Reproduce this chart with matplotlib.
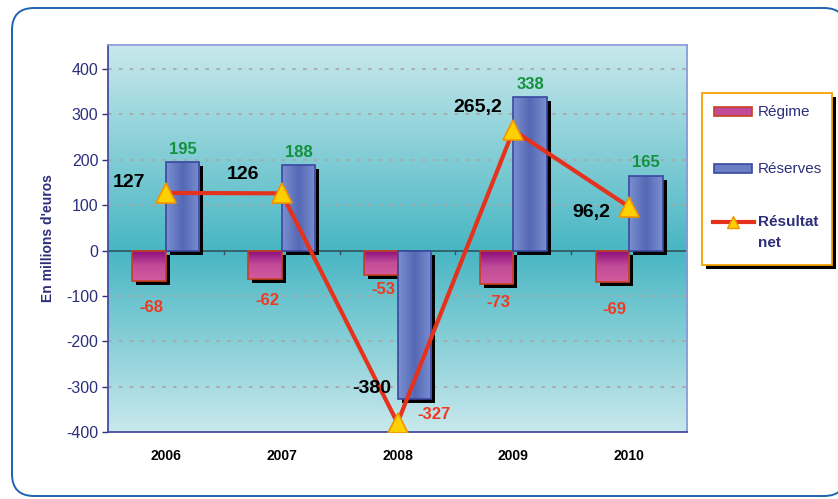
import matplotlib.pyplot as plt
import numpy as np
from matplotlib.colors import LinearSegmentedColormap
from matplotlib.patches import FancyBboxPatch, Rectangle
from matplotlib.lines import Line2D
from matplotlib.transforms import ScaledTranslation

plt.rcParams['font.family'] = ['Liberation Sans', 'DejaVu Sans']
plt.rcParams['axes.unicode_minus'] = False

# data
years = ['2006', '2007', '2008', '2009', '2010']
regime = [-68, -62, -53, -73, -69]
reserves = [195, 188, -327, 338, 165]
resultat = [127, 126, -380, 265.2, 96.2]
resultat_labels = ['127', '126', '-380', '265,2', '96,2']

W, H = 838, 499
fig = plt.figure(figsize=(W / 100, H / 100), dpi=100)

# background frame + legend drawn in pixel coords
bg = fig.add_axes([0, 0, 1, 1], zorder=0)
bg.set_xlim(0, W)
bg.set_ylim(H, 0)
bg.axis('off')
bg.add_patch(FancyBboxPatch((12, 8), 834, 488, boxstyle='round,pad=0,rounding_size=22',
                            fc='white', ec='#1f63ad', lw=1.4))

ax = fig.add_axes([108 / W, 1 - 432 / H, 579 / W, 387 / H], zorder=1)
ymin, ymax = -400, 453
ax.set_xlim(-0.5, 4.5)
ax.set_ylim(ymin, ymax)

# gradient background
f0 = (0 - ymin) / (ymax - ymin)
cmap_bg = LinearSegmentedColormap.from_list(
    'bg', [(0, '#c8e8ec'), (f0, '#48b6c3'), (1, '#c8e8ec')])
grad = np.linspace(0, 1, 256).reshape(-1, 1)
ax.imshow(grad, extent=[0, 1, 0, 1], transform=ax.transAxes, cmap=cmap_bg,
          aspect='auto', origin='lower', zorder=0)

for v in [-300, -200, -100, 100, 200, 300, 400]:
    ax.axhline(v, color='#a9a9a9', lw=1.3, ls=(0, (2, 4)), zorder=1)
ax.axhline(0, color='#2f5560', lw=1.2, zorder=1)
for b in np.arange(0.5, 4.5, 1):
    ax.plot([b, b], [0, -8], color='#2f5560', lw=1, zorder=1)

x = np.arange(len(years))
bw = 0.29
shadow = ax.transData + ScaledTranslation(4 / 100, -4 / 100, fig.dpi_scale_trans)

cmap_reg = LinearSegmentedColormap.from_list('reg', ['#d25a9e', '#c14c98', '#8a0a7c'])
cmap_res = LinearSegmentedColormap.from_list('res', ['#7a8fd0', '#5568b4', '#7a8fd0'])

reg_bars = ax.bar(x - bw / 2, regime, bw, color='#c04c98', ec='#c8401f', lw=1.2, zorder=3)
res_bars = ax.bar(x + bw / 2, reserves, bw, color='#6a7ec4', ec='#3a48a0', lw=1.2, zorder=3)

for bars, kind in [(reg_bars, 'reg'), (res_bars, 'res')]:
    for p in bars:
        bx, by = p.get_x(), p.get_y()
        w, h = p.get_width(), p.get_height()
        sh = Rectangle((bx, by), w, h, fc='black', ec='none', zorder=2, transform=shadow)
        ax.add_patch(sh)
        y0, y1 = min(by, by + h), max(by, by + h)
        if kind == 'reg':
            img = ax.imshow(np.linspace(0, 1, 64).reshape(-1, 1), cmap=cmap_reg,
                            extent=[bx, bx + w, y0, y1], origin='lower', aspect='auto', zorder=3)
        else:
            img = ax.imshow(np.linspace(0, 1, 64).reshape(1, -1), cmap=cmap_res,
                            extent=[bx, bx + w, y0, y1], origin='lower', aspect='auto', zorder=3)
        img.set_clip_path(p)
        p.set_facecolor('none')
        p.set_zorder(4)

ax.plot(x, resultat, color='#e5321c', lw=3, marker='^', ms=14, mfc='#ffd000',
        mec='#f29400', mew=1.2, zorder=6)

# value labels
for i, v in enumerate(reserves):
    if v > 0:
        ax.text(x[i] + bw / 2, v + 12, str(v), ha='center', va='bottom', color='#14913c',
                fontsize=12, fontweight='bold', zorder=7)
    else:
        ax.text(x[i] + bw / 2 + 0.17, v - 34, str(v), ha='center', va='center', color='#ee3a22',
                fontsize=12, fontweight='bold', zorder=7)

reg_lab_y = [-125, -110, -86, -115, -130]
for i, v in enumerate(regime):
    ax.text(x[i] - bw / 2 + 0.02, reg_lab_y[i], str(v), ha='center', va='center', color='#ee3a22',
            fontsize=12, fontweight='bold', zorder=7)

res_lab_pos = [(-0.32, 150), (0.67, 167), (1.78, -304), (2.69, 315), (3.67, 84)]
for (lx, ly), t in zip(res_lab_pos, resultat_labels):
    ax.text(lx, ly, t, ha='center', va='center', color='black', fontsize=14,
            fontweight='bold', zorder=7)

ax.set_yticks(range(-400, 401, 100))
ax.tick_params(axis='y', colors='#2e2e7a', labelsize=11.5, length=4, width=1, pad=3)
ax.set_xticks(x)
ax.set_xticklabels(years, fontsize=10, fontweight='bold')
ax.tick_params(axis='x', length=0, pad=12)
ax.set_ylabel("En millions d'euros", fontsize=10, fontweight='bold', color='#2e2e7a', labelpad=8)
for s in ['left', 'bottom']:
    ax.spines[s].set_color('#4a4aa0')
    ax.spines[s].set_linewidth(1.3)
for s in ['right', 'top']:
    ax.spines[s].set_color('#8898d8')
    ax.spines[s].set_linewidth(1.2)

# legend
bg.add_patch(Rectangle((706, 97), 130, 172, fc='black', ec='none', zorder=2))
bg.add_patch(Rectangle((702, 93), 130, 172, fc='white', ec='#f5a300', lw=1.3, zorder=3))
bg.add_patch(Rectangle((714, 107), 38, 9, fc='#c04c98', ec='#c8401f', lw=1.2, zorder=4))
bg.add_patch(Rectangle((714, 164), 38, 9, fc='#6a7ec4', ec='#3a48a0', lw=1.2, zorder=4))
bg.add_line(Line2D([713, 754], [222, 222], color='#e5321c', lw=3, zorder=4))
bg.plot([733], [222], marker='^', ms=9, mfc='#ffd000', mec='#f29400', zorder=5)
bg.text(758, 112, 'Régime', fontsize=11, color='#2e2e7a', va='center', zorder=5)
bg.text(758, 169, 'Réserves', fontsize=11, color='#2e2e7a', va='center', zorder=5)
bg.text(758, 222, 'Résultat', fontsize=11, fontweight='bold', color='#2e2e7a', va='center', zorder=5)
bg.text(758, 243, 'net', fontsize=11, fontweight='bold', color='#2e2e7a', va='center', zorder=5)

fig.savefig('out.png', dpi=100)
